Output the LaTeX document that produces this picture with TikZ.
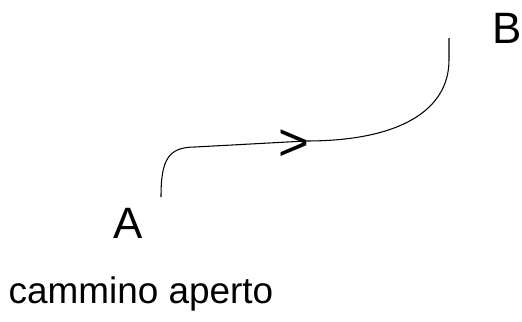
\documentclass[tikz,border=0pt]{standalone}
\usepackage{fontspec}
\setmainfont{Liberation Sans}
\usepackage{tikz}

\begin{document}
\begin{tikzpicture}[x=0.02cm,y=-0.02cm]
            \useasboundingbox (0,0) rectangle (522,322);
            
            \node (A) at (128,223) {\fontsize{25}{30}\selectfont A};
            \node (B) at (507,28) {\fontsize{25}{30}\selectfont B};
            \node [anchor=base] (title) at (141,303) {\fontsize{21}{25}\selectfont cammino aperto};
            
            \coordinate (start) at (161,197);
            \coordinate (end) at (449,38);
            
            \draw [line width=0.6pt]
            (start) .. controls (161,160) and (168,147) .. (195,147)
            -- (306,141) coordinate (mark)
            .. controls (400,141) and (449,110) .. (449,60) -- (end);
            
            \node [anchor=base east, inner sep=0pt] (dir) at ([xshift=0.08cm,yshift=-0.38cm]mark)
            {\fontsize{30}{34}\selectfont >};
            
\end{tikzpicture}
\end{document}
